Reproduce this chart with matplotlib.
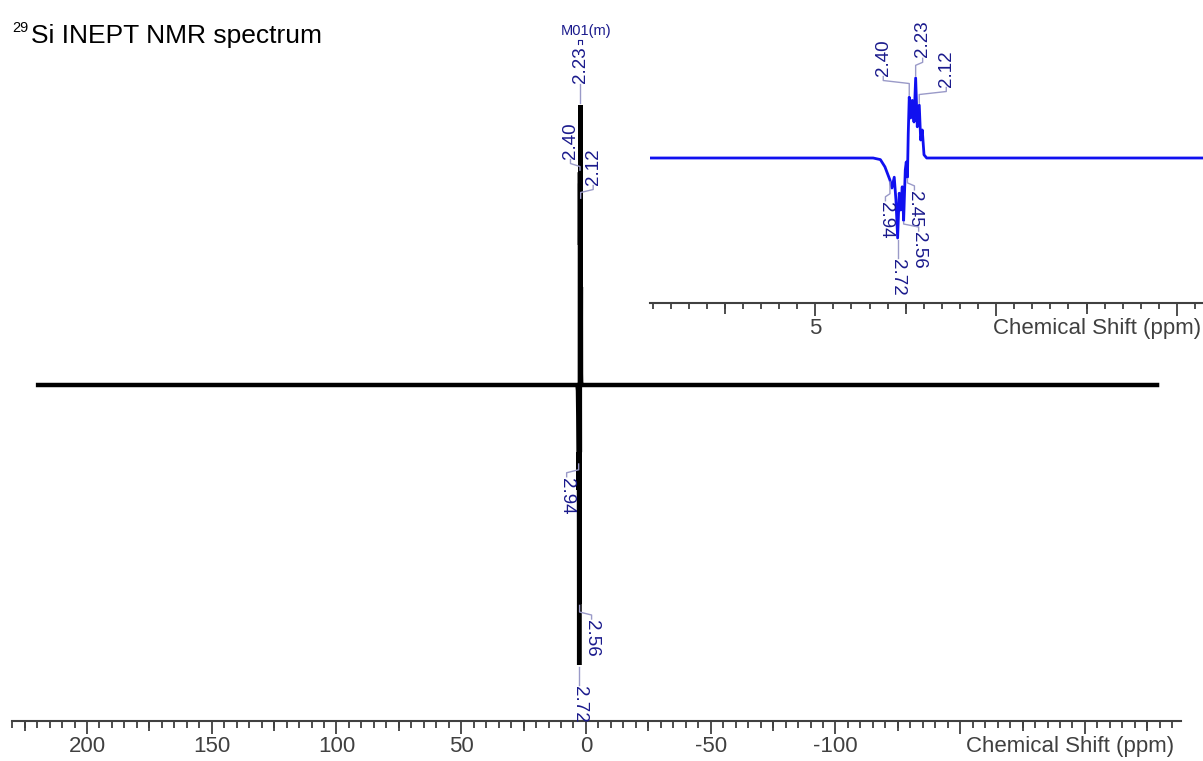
import numpy as np
import matplotlib
matplotlib.use("Agg")
import matplotlib.pyplot as plt
from matplotlib.lines import Line2D
from matplotlib.transforms import IdentityTransform
from matplotlib.ticker import FixedLocator, FixedFormatter, MultipleLocator, NullLocator

plt.rcParams['font.family'] = ['Liberation Sans', 'DejaVu Sans']

# multiplet region (ppm, normalised intensity), baseline is flat outside it
peak_ppm = [3.40, 3.20, 3.075, 2.936, 2.881, 2.817, 2.770, 2.723, 2.679, 2.640, 2.596, 2.557,
            2.512, 2.485, 2.452, 2.430, 2.402, 2.363, 2.319, 2.271, 2.225, 2.180, 2.125,
            2.086, 2.042, 1.994, 1.920, 1.80]
peak_int = [0.0, -0.02, -0.11, -0.275, -0.375, -0.24, -0.525, -1.0, -0.44, -0.65, -0.36, -0.78,
            -0.15, -0.05, -0.24, 0.30, 0.76, 0.50, 0.72, 0.45, 1.0, 0.39, 0.66,
            0.225, 0.35, 0.04, 0.0, 0.0]

main_limits = [219.6, -228.9]     # recorded range of the full spectrum
inset_limits = [9.6, -5.8]

# peak labels: ppm, horizontal offset and distance of label centre from the tip (pixels)
main_lbl_ppm = [2.23, 2.40, 2.12, 2.94, 2.56, 2.72]
main_lbl_dx = [0, -9.5, 12.5, -12, 12, 0]
main_lbl_dy = [40, 32, 34, 34, 35, 39]

inset_lbl_ppm = [2.40, 2.23, 2.12, 2.94, 2.45, 2.56, 2.72]
inset_lbl_dx = [-26, 7, 27, -4.5, 7, 15, 0]
inset_lbl_dy = [40, 39, 37, 40, 32, 30, 39]

main_ticks = [200, 150, 100, 50, 0, -50, -100, -150, -200]
main_ticklabels = ['200', '150', '100', '50', '0', '-50', '-100', '', '']
main_mid = [225, 175, 125, 75, 25, -25, -75, -125, -175, -225]
inset_ticks = [5, 0, -5]
inset_ticklabels = ['5', '', '']
inset_mid = [7.5, 2.5, -2.5]

NAVY = '#1a1a8c'
LINK = '#9a9ac8'
GREY = '#404040'
W, H = 1203, 761

fig = plt.figure(figsize=(W / 100, H / 100), dpi=100)


def px_axes(left, right, top, bottom):
    return fig.add_axes([left / W, (H - bottom) / H, (right - left) / W, (bottom - top) / H])


def style_axis(ax, ticks, labels, mid, minor, lens, label_dx):
    for s in ['top', 'left', 'right']:
        ax.spines[s].set_visible(False)
    ax.spines['bottom'].set_color(GREY)
    ax.spines['bottom'].set_linewidth(1.5)
    ax.set_yticks([])
    ax.xaxis.set_major_locator(FixedLocator(ticks))
    ax.xaxis.set_major_formatter(FixedFormatter(labels))
    ax.xaxis.set_minor_locator(MultipleLocator(minor))
    ax.tick_params(axis='x', which='major', length=lens[0], width=1.3, color=GREY,
                   labelsize=16, labelcolor=GREY, pad=1.5)
    ax.tick_params(axis='x', which='minor', length=lens[2], width=1.3, color=GREY)
    sec = ax.secondary_xaxis('bottom', functions=(lambda x: x, lambda x: x))
    sec.spines['bottom'].set_visible(False)
    sec.set_xticks(mid)
    sec.set_xticklabels([])
    sec.xaxis.set_minor_locator(NullLocator())
    sec.tick_params(axis='x', length=lens[1], width=1.3, color=GREY)
    ax.annotate('Chemical Shift (ppm)', xy=(1, 0), xycoords='axes fraction',
                xytext=(label_dx, -(lens[0] + 1.9) * 100 / 72), textcoords='offset pixels',
                ha='right', va='top', fontsize=16, color=GREY)


def add_labels(ax, ppms, dxs, dys, size):
    out = []
    for p, dx, dy in zip(ppms, dxs, dys):
        i = int(np.argmin(np.abs(np.array(peak_ppm) - p)))
        tip = (peak_ppm[i], peak_int[i])
        s = 1 if tip[1] > 0 else -1
        t = ax.annotate(f"{p:.2f}", xy=tip, xytext=(dx, s * dy), textcoords='offset pixels',
                        rotation=90 if s > 0 else 270, ha='center', va='center',
                        fontsize=size, color=NAVY, annotation_clip=False)
        out.append((ax, t, tip, dx, s))
    return out


# ---- full spectrum ----
ax = px_axes(12, 1181, 0, 721)
x_main = [main_limits[0]] + peak_ppm + [main_limits[1]]
y_main = [0.0] + peak_int + [0.0]
ax.plot(x_main, y_main, color='black', lw=3.2, solid_joinstyle='miter')
ax.set_xlim(230.06, -238.5)
ax.set_ylim(-1.2, 1.375)
style_axis(ax, main_ticks, main_ticklabels, main_mid, 5, (9.0, 7.2, 4.7), -7)
labels = add_labels(ax, main_lbl_ppm, main_lbl_dx, main_lbl_dy, 13.5)

ax.annotate('M01(m)', xy=(2.23, 1.0), xytext=(6, 74), textcoords='offset pixels',
            ha='center', va='center', fontsize=10.5, color=NAVY)

# ---- inset (expanded multiplet) ----
axi = px_axes(650, 1203, 40, 303)
x_in = [inset_limits[0]] + peak_ppm + [inset_limits[1]]
y_in = [0.0] + peak_int + [0.0]
axi.plot(x_in, y_in, color='#1010f0', lw=2.0)
axi.set_xlim(9.57, -5.72)
axi.set_ylim(-1.8125, 1.475)
axi.patch.set_alpha(0)
style_axis(axi, inset_ticks, inset_ticklabels, inset_mid, 0.5, (9.0, 8.0, 4.0), -2)
labels += add_labels(axi, inset_lbl_ppm, inset_lbl_dx, inset_lbl_dy, 13.5)

# title
fig.text(12 / W, (H - 32) / H, '29', fontsize=10.5, va='baseline', ha='left')
fig.text(31 / W, (H - 43.5) / H, 'Si INEPT NMR spectrum', fontsize=19, va='baseline', ha='left')

# connectors between labels and peak tips
fig.canvas.draw()
r = fig.canvas.get_renderer()
for a, t, tip, dx, s in labels:
    tx, ty = a.transData.transform(tip)
    bb = t.get_window_extent(r)
    e = bb.y0 - 1 if s > 0 else bb.y1 + 1
    lx = tx + dx
    if abs(dx) < 2:
        xs, ys = [tx, tx], [ty + s * 2, e]
    else:
        xs = [tx, tx, lx, lx]
        ys = [ty + s * 2, e - s * 7, e - s * 4, e]
    fig.add_artist(Line2D(xs, ys, color=LINK, lw=1.0, transform=IdentityTransform()))

# small multiplet bracket under the M01 label
tx, ty = ax.transData.transform((2.23, 1.0))
fig.add_artist(Line2D([tx - 2, tx - 2, tx + 2, tx + 2], [ty + 61, ty + 65, ty + 65, ty + 61],
                      color=NAVY, lw=0.8, transform=IdentityTransform()))

fig.savefig('out.png', dpi=100)
